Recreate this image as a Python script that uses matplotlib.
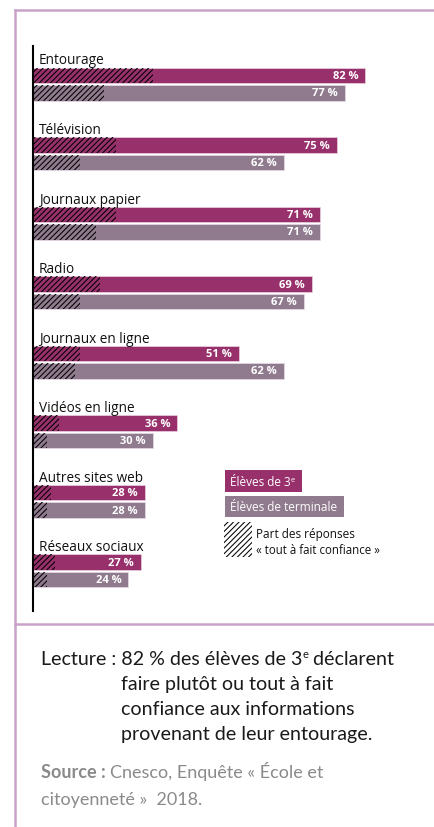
import matplotlib
matplotlib.use("Agg")
import matplotlib.pyplot as plt
from matplotlib.patches import Rectangle
from matplotlib.lines import Line2D

categories = ["Entourage", "Télévision", "Journaux papier", "Radio",
              "Journaux en ligne", "Vidéos en ligne", "Autres sites web", "Réseaux sociaux"]
eleves_3e = [82, 75, 71, 69, 51, 36, 28, 27]
eleves_term = [77, 62, 71, 67, 62, 30, 28, 24]
tout_fait_3e = [30, 21, 21, 17, 12, 7, 5, 6]
tout_fait_term = [18, 12, 16, 12, 11, 4, 4, 4]

C3 = "#98306b"
CT = "#8f7a8e"
FRAME = "#c8a2c8"
HATCH = "//////"

plt.rcParams["hatch.linewidth"] = 0.75

W, H = 435, 828
fig = plt.figure(figsize=(W / 100, H / 100), dpi=100)
renderer = fig.canvas.get_renderer()

def fx(x):
    return x / W

def fy(y):
    return 1 - y / H

def pieces(x, y, parts, **common):
    """Draw consecutive text pieces starting at pixel x, baseline pixel y."""
    cur = x
    for txt, kw in parts:
        props = dict(common)
        props.update(kw)
        dy = props.pop("dy", 0)
        t = fig.text(fx(cur), fy(y - dy), txt, ha="left", va="baseline", **props)
        cur += t.get_window_extent(renderer).width
    return cur

# main axes
ax_l, ax_r, ax_t, ax_b = 33, 430.4, 47, 612
ax = fig.add_axes([fx(ax_l), fy(ax_b), (ax_r - ax_l) / W, (ax_b - ax_t) / H])
ax.set_xlim(0.6, 98)
ax.set_ylim(7.702, -0.424)
for s in ["top", "right", "bottom"]:
    ax.spines[s].set_visible(False)
ax.spines["left"].set_linewidth(1.5)
ax.spines["left"].set_color("black")
ax.set_xticks([])
ax.set_yticks([])
ax.patch.set_alpha(0)

bh = 0.223
off = 0.25
y3 = list(range(len(categories)))
yt = [y + off for y in y3]

ax.barh(y3, eleves_3e, height=bh, color=C3, edgecolor="#ecd3e3", linewidth=0.5)
ax.barh(yt, eleves_term, height=bh, color=CT, edgecolor="#e6dbe6", linewidth=0.5)
ax.barh(y3, tout_fait_3e, height=bh, color="none", edgecolor="black", linewidth=0, hatch=HATCH)
ax.barh(yt, tout_fait_term, height=bh, color="none", edgecolor="black", linewidth=0, hatch=HATCH)

for i, cat in enumerate(categories):
    ax.text(2.1, y3[i] - 0.173, cat, ha="left", va="baseline", fontsize=9.8,
            family="Open Sans", color="#111111")
    ax.text(eleves_3e[i] - 1.7, y3[i], f"{eleves_3e[i]} %", ha="right", va="center",
            fontsize=8, fontweight="bold", family="Open Sans", color="white")
    ax.text(eleves_term[i] - 1.7, yt[i], f"{eleves_term[i]} %", ha="right", va="center",
            fontsize=8, fontweight="bold", family="Open Sans", color="white")

# legend
def rect(x0, y0, x1, y1, **kw):
    r = Rectangle((fx(x0), fy(y1)), (x1 - x0) / W, (y1 - y0) / H, transform=fig.transFigure, **kw)
    fig.patches.append(r)

rect(225, 471, 302, 493, facecolor=C3, edgecolor="none")
pieces(230, 486.5, [("Élèves de 3", {}), ("e", {"fontsize": 5.5, "dy": 4})],
       fontsize=8.5, family="Open Sans", color="white")
rect(225, 497, 344, 518, facecolor=CT, edgecolor="none")
fig.text(fx(230), fy(507.5), "Élèves de terminale", ha="left", va="center",
         fontsize=8.5, family="Open Sans", color="white")
rect(224, 523, 252, 558, facecolor="none", edgecolor="black", linewidth=0, hatch=HATCH)
fig.text(fx(256), fy(535), "Part des réponses", ha="left", va="center",
         fontsize=8.5, family="Open Sans", color="#111111")
fig.text(fx(256), fy(551), "« tout à fait confiance »", ha="left", va="center",
         fontsize=8.3, family="Open Sans", color="#111111")

# frame
for (x0, y0, x1, y1) in [(15, 11, 15, 828), (15, 11, 435, 11), (15, 625, 435, 625)]:
    fig.add_artist(Line2D([fx(x0), fx(x1)], [fy(y0), fy(y1)], transform=fig.transFigure,
                          color=FRAME, linewidth=1.8))

# reading note
FS = 14.1
DARK = "#1a1a1a"
pieces(41, 665, [("Lecture : 82 % des élèves de 3", {}), ("e", {"fontsize": 8, "dy": 7}),
                 (" déclarent", {})], fontsize=FS, family="Lato", color=DARK)
lect_rest = ["faire plutôt ou tout à fait",
             "confiance aux informations",
             "provenant de leur entourage."]
for t, y in zip(lect_rest, [690, 715, 740]):
    fig.text(fx(121), fy(y), t, ha="left", va="baseline", fontsize=FS,
             family="Lato", color=DARK)

GRAY = "#8a8a8a"
pieces(41, 778, [("Source : ", {"fontweight": "bold"}), ("Cnesco, Enquête « École et", {})],
       fontsize=13, family="Lato", color=GRAY)
fig.text(fx(41), fy(805), "citoyenneté »  2018.", ha="left", va="baseline", fontsize=13,
         family="Lato", color=GRAY)

fig.savefig("out.png", dpi=100)
